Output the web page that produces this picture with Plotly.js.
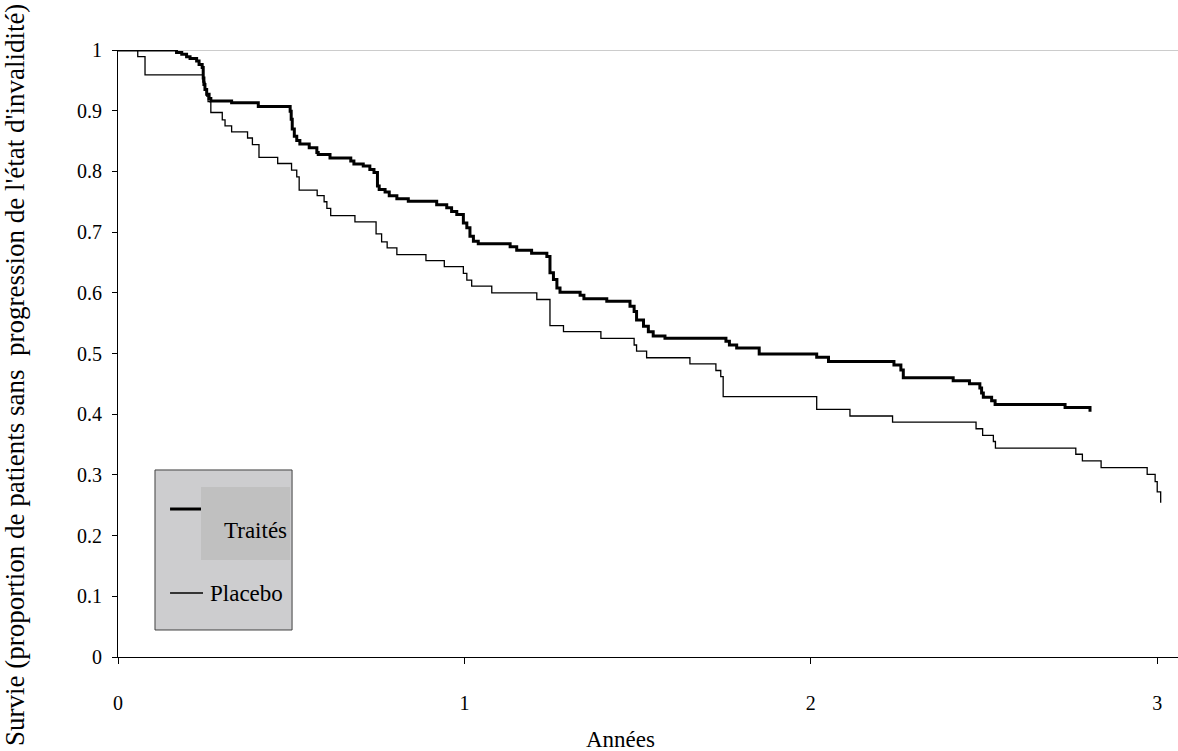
<!DOCTYPE html>
<html><head><meta charset="utf-8">
<script src="https://cdn.plot.ly/plotly-3.0.1.min.js"></script>
<style>html,body{margin:0;padding:0;background:#fff}#chart{width:1178px;height:751px}</style>
</head><body><div id="chart"></div>
<script>
const seriesNames = ['Traités', 'Placebo'];
const traitesT = [0, 0.169, 0.184, 0.198, 0.208, 0.227, 0.234, 0.243, 0.246, 0.248,
  0.251, 0.256, 0.263, 0.268, 0.328, 0.405, 0.497, 0.500, 0.503, 0.509,
  0.516, 0.525, 0.552, 0.574, 0.578, 0.612, 0.672, 0.681, 0.708, 0.727,
  0.739, 0.749, 0.754, 0.771, 0.783, 0.805, 0.838, 0.920, 0.949, 0.963,
  0.978, 0.997, 1.007, 1.016, 1.026, 1.040, 1.132, 1.151, 1.194, 1.238,
  1.247, 1.257, 1.267, 1.276, 1.334, 1.345, 1.411, 1.478, 1.490, 1.497,
  1.517, 1.531, 1.545, 1.579, 1.755, 1.765, 1.786, 1.851, 2.017, 2.051,
  2.240, 2.260, 2.267, 2.411, 2.458, 2.488, 2.493, 2.498, 2.522, 2.532,
  2.734, 2.806];
const traitesS = [1, 0.996, 0.993, 0.989, 0.986, 0.982, 0.976, 0.971, 0.954, 0.943,
  0.935, 0.927, 0.920, 0.916, 0.913, 0.907, 0.899, 0.886, 0.870, 0.858,
  0.851, 0.845, 0.839, 0.831, 0.828, 0.822, 0.817, 0.812, 0.809, 0.803,
  0.798, 0.776, 0.770, 0.766, 0.760, 0.755, 0.751, 0.745, 0.740, 0.734,
  0.729, 0.715, 0.707, 0.693, 0.685, 0.681, 0.676, 0.670, 0.665, 0.660,
  0.633, 0.622, 0.608, 0.601, 0.596, 0.590, 0.586, 0.578, 0.569, 0.555,
  0.545, 0.536, 0.529, 0.525, 0.520, 0.514, 0.509, 0.499, 0.494, 0.487,
  0.481, 0.473, 0.460, 0.455, 0.450, 0.443, 0.435, 0.428, 0.422, 0.416,
  0.411, 0.404];
const placeboT = [0, 0.057, 0.078, 0.245, 0.251, 0.256, 0.260, 0.268, 0.301, 0.309,
  0.328, 0.374, 0.388, 0.407, 0.461, 0.501, 0.516, 0.523, 0.575, 0.595,
  0.603, 0.614, 0.684, 0.745, 0.761, 0.777, 0.805, 0.889, 0.942, 0.997,
  1.007, 1.021, 1.079, 1.209, 1.247, 1.286, 1.394, 1.490, 1.497, 1.526,
  1.651, 1.726, 1.740, 1.747, 2.017, 2.113, 2.236, 2.477, 2.496, 2.527,
  2.533, 2.765, 2.784, 2.838, 2.971, 2.994, 3.000, 3.010];
const placeboS = [1, 0.989, 0.959, 0.947, 0.934, 0.924, 0.915, 0.897, 0.885, 0.875,
  0.865, 0.855, 0.844, 0.823, 0.813, 0.802, 0.791, 0.769, 0.760, 0.750,
  0.739, 0.727, 0.717, 0.697, 0.684, 0.674, 0.663, 0.653, 0.643, 0.632,
  0.621, 0.611, 0.600, 0.589, 0.546, 0.536, 0.525, 0.514, 0.504, 0.493,
  0.483, 0.472, 0.462, 0.429, 0.408, 0.397, 0.387, 0.376, 0.365, 0.355,
  0.344, 0.334, 0.323, 0.312, 0.301, 0.289, 0.272, 0.254];
const xTickVals = [0, 1, 2, 3];
const xTickText = ['0', '1', '2', '3'];
const yTickVals = [0, 0.1, 0.2, 0.3, 0.4, 0.5, 0.6, 0.7, 0.8, 0.9, 1];
const yTickText = ['0', '0.1', '0.2', '0.3', '0.4', '0.5', '0.6', '0.7', '0.8', '0.9', '1'];
const xTitle = 'Années';
const yTitle = "Survie (proportion de patients sans  progression de l'état d'invalidité)";

const FONT = 'Liberation Serif, Times New Roman, serif';

const traces = [
  {x: placeboT, y: placeboS, name: seriesNames[1], mode: 'lines',
   line: {shape: 'hv', color: '#000', width: 1.3}},
  {x: traitesT, y: traitesS, name: seriesNames[0], mode: 'lines',
   line: {shape: 'hv', color: '#000', width: 3}}
];

const layout = {
  width: 1178, height: 751,
  margin: {l: 118, r: 0, t: 50, b: 94},
  paper_bgcolor: '#fff', plot_bgcolor: '#fff',
  showlegend: false,
  font: {family: FONT, color: '#000'},
  xaxis: {range: [0, 3.06], tickvals: xTickVals, ticktext: xTickText,
    ticks: 'outside', ticklen: 6, tickcolor: '#000', showline: true, linecolor: '#000', linewidth: 1,
    showgrid: false, zeroline: false, tickfont: {family: FONT, size: 20}, ticklabelstandoff: 22},
  yaxis: {range: [0, 1], tickvals: yTickVals, ticktext: yTickText,
    ticks: 'outside', ticklen: 5, tickcolor: '#000', showline: true, linecolor: '#000', linewidth: 1,
    showgrid: false, zeroline: false, tickfont: {family: FONT, size: 20}, ticklabelstandoff: 6},
  shapes: [
    {type: 'line', xref: 'paper', yref: 'y', x0: 0, x1: 1, y0: 1, y1: 1, line: {color: '#999', width: 1}, layer: 'below'},
    {type: 'rect', xref: 'paper', yref: 'paper', x0: 0.0349, x1: 0.1642, y0: 0.0445, y1: 0.3081,
     fillcolor: '#cdcdcf', line: {color: '#404040', width: 1}},
    {type: 'rect', xref: 'paper', yref: 'paper', x0: 0.0783, x1: 0.1623, y0: 0.1598, y1: 0.2801,
     fillcolor: '#c0c0c0', line: {width: 0}},
    {type: 'line', xref: 'paper', yref: 'paper', x0: 0.0491, x1: 0.0783, y0: 0.2438, y1: 0.2438,
     line: {color: '#000', width: 3}},
    {type: 'line', xref: 'paper', yref: 'paper', x0: 0.0491, x1: 0.0802, y0: 0.1054, y1: 0.1054,
     line: {color: '#000', width: 1.3}}
  ],
  annotations: [
    {text: seriesNames[0], xref: 'paper', yref: 'paper', x: 0.0981, y: 0.2076, xanchor: 'left', yanchor: 'middle',
     showarrow: false, font: {family: FONT, size: 23, color: '#000'}},
    {text: seriesNames[1], xref: 'paper', yref: 'paper', x: 0.0849, y: 0.1054, xanchor: 'left', yanchor: 'middle',
     showarrow: false, font: {family: FONT, size: 23, color: '#000'}},
    {text: xTitle, xref: 'paper', yref: 'paper', x: 0.4745, y: -0.1367, xanchor: 'center', yanchor: 'middle',
     showarrow: false, font: {family: FONT, size: 23, color: '#000'}},
    {text: yTitle, xref: 'paper', yref: 'paper', x: -0.0972, y: 0.4646, xanchor: 'center', yanchor: 'middle',
     textangle: -90, showarrow: false, font: {family: FONT, size: 27, color: '#000'}}
  ]
};

Plotly.newPlot('chart', traces, layout, {displayModeBar: false, staticPlot: true});
</script>
</body></html>
